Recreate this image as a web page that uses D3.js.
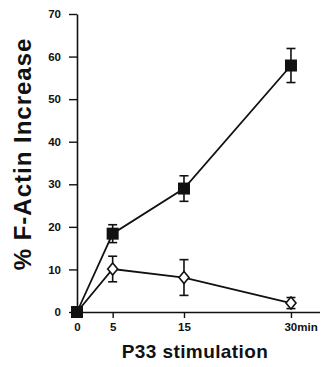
<!DOCTYPE html>
<html>
<head>
<meta charset="utf-8">
<script src="https://cdn.jsdelivr.net/npm/d3@7"></script>
<style>
  body { margin: 0; background: #fff; }
  svg { display: block; font-family: "Liberation Sans", Arial, sans-serif; }
</style>
</head>
<body>
<svg id="chart" width="324" height="367"></svg>
<script>
// time points (min) and % F-actin increase
var times = [0, 5, 15, 30];
var xTickLabels = ["0", "5", "15", "30min"];
var yTicks = [0, 10, 20, 30, 40, 50, 60, 70];

var filledMean = [0, 18.4, 29.0, 57.9];
var filledErr = [0, 2.1, 3.0, 4.0];

var openMean = [0, 10.1, 8.1, 2.1];
var openErr = [0, 3.0, 4.2, 1.3];

var svg = d3.select("#chart");

var x = d3.scaleLinear().domain([0, 34]).range([77, 319.5]);
var y = d3.scaleLinear().domain([0, 70]).range([312, 14]);

// y axis
var yAxis = svg.append("g")
    .attr("transform", "translate(77,0)")
    .call(d3.axisLeft(y).tickValues(yTicks).tickSize(8).tickPadding(8).tickSizeOuter(0));
yAxis.select(".domain").attr("stroke", "#111").attr("stroke-width", 1.6);
yAxis.selectAll(".tick line").attr("stroke", "#111").attr("stroke-width", 1.4);
yAxis.selectAll(".tick text")
    .attr("font-size", 11.5).attr("font-weight", "bold").attr("fill", "#111");

// x axis
var xAxis = svg.append("g")
    .attr("transform", "translate(0,312)")
    .call(d3.axisBottom(x).tickValues(times).tickFormat(function(d, i) { return xTickLabels[i]; })
        .tickSize(6).tickPadding(5).tickSizeOuter(0));
xAxis.select(".domain").attr("stroke", "#111").attr("stroke-width", 1.6);
xAxis.selectAll(".tick line").attr("stroke", "#111").attr("stroke-width", 1.4);
xAxis.selectAll(".tick text")
    .attr("font-size", 11.5).attr("font-weight", "bold").attr("fill", "#111");
// "30min" is anchored so the number sits on the tick
xAxis.selectAll(".tick text").filter(function(d) { return d === 30; })
    .attr("text-anchor", "start").attr("dx", -7);

// axis titles
svg.append("text")
    .attr("transform", "translate(31,154) rotate(-90)")
    .attr("text-anchor", "middle")
    .attr("font-size", 24).attr("font-weight", "bold")
    .attr("letter-spacing", 1)
    .attr("fill", "#111")
    .text("% F-Actin Increase");

svg.append("text")
    .attr("x", 195).attr("y", 358)
    .attr("text-anchor", "middle")
    .attr("font-size", 19).attr("font-weight", "bold")
    .attr("letter-spacing", 0.4)
    .attr("fill", "#111")
    .text("P33 stimulation");

function series(means, errs) {
    return times.map(function(t, i) { return { t: t, m: means[i], e: errs[i] }; });
}
var filled = series(filledMean, filledErr);
var open = series(openMean, openErr);

var line = d3.line().x(function(d) { return x(d.t); }).y(function(d) { return y(d.m); });

function drawErr(data) {
    var g = svg.append("g").attr("stroke", "#111").attr("stroke-width", 1.6).attr("fill", "none");
    data.filter(function(d) { return d.e > 0; }).forEach(function(d) {
        var cx = x(d.t), y0 = y(d.m - d.e), y1 = y(d.m + d.e);
        g.append("line").attr("x1", cx).attr("x2", cx).attr("y1", y0).attr("y2", y1);
        g.append("line").attr("x1", cx - 4.5).attr("x2", cx + 4.5).attr("y1", y0).attr("y2", y0);
        g.append("line").attr("x1", cx - 4.5).attr("x2", cx + 4.5).attr("y1", y1).attr("y2", y1);
    });
}

// open diamond series
drawErr(open);
svg.append("path").datum(open)
    .attr("d", line).attr("fill", "none").attr("stroke", "#111").attr("stroke-width", 1.8);
svg.selectAll(".diamond").data(open.slice(1)).enter().append("path")
    .attr("class", "diamond")
    .attr("d", "M0,-6L5,0L0,6L-5,0Z")
    .attr("transform", function(d) { return "translate(" + x(d.t) + "," + y(d.m) + ")"; })
    .attr("fill", "#fff").attr("stroke", "#111").attr("stroke-width", 1.6);

// filled square series
drawErr(filled);
svg.append("path").datum(filled)
    .attr("d", line).attr("fill", "none").attr("stroke", "#111").attr("stroke-width", 1.8);
svg.selectAll(".sq").data(filled).enter().append("rect")
    .attr("class", "sq")
    .attr("x", function(d) { return x(d.t) - 6; })
    .attr("y", function(d) { return y(d.m) - 6; })
    .attr("width", 12).attr("height", 12)
    .attr("fill", "#111");
</script>
</body>
</html>
